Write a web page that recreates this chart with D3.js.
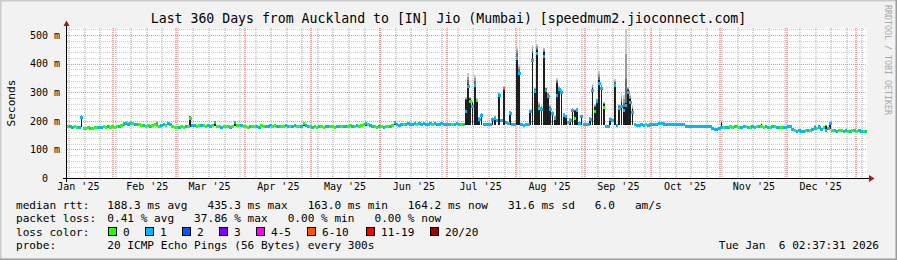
<!DOCTYPE html>
<html>
<head>
<meta charset="utf-8">
<script src="https://cdn.jsdelivr.net/npm/d3@7"></script>
<style>
  html, body { margin: 0; padding: 0; background: #f2f2f2; }
  svg { display: block; font-family: "DejaVu Sans Mono", monospace; }
  text { white-space: pre; }
</style>
</head>
<body>
<div id="chart"></div>
<script>
// time window: 360 days ending Tue Jan 6 02:37:31 2026 (treated as UTC)
const endTime   = new Date(Date.UTC(2026, 0, 6, 2, 37, 31));
const startTime = new Date(endTime.getTime() - 360 * 864e5);

// daily median rtt (ms), one array per month, starting Jan 11 2025
const medJan = [181,179,178,180,178,176,212,175,174,176,175,174,176,177,178,176,179,178,180,177,179];
const medFeb = [178,180,182,185,188,190,186,192,191,189,188,186,184,183,181,184,182,185,186,183,181,184,187,183,190,186,180,178];
const medMar = [178,176,180,177,179,181,208,183,184,182,185,183,184,182,183,181,184,194,182,180,178,181,179,180,178,181,195,184,183,185,182];
const medApr = [180,178,181,179,182,180,178,183,181,180,182,184,181,183,182,181,180,182,183,181,182,180,183,181,182,179,192,183,182,181];
const medMay = [178,180,177,179,181,178,180,179,182,180,178,181,179,180,182,181,179,183,180,182,184,181,183,186,192,186,183,181,180,178,181];
const medJun = [180,178,181,179,182,184,195,186,185,187,189,188,190,189,188,190,189,191,188,190,189,188,190,189,190,188,189,190,188,189];
const medJul = [188,189,187,188,190,188,189,187,232,320,267,250,325,270,205,218,188,187,189,188,205,210,200,290,200,314,195,190,227,188,189];
const medAug = [419,366,186,185,187,186,232,413,302,435,245,240,425,308,285,240,227,210,290,310,300,220,215,195,200,238,210,238,190,215,188];
const medSep = [188,187,205,308,232,267,331,315,248,180,181,205,200,325,185,245,250,235,255,300,265,230,186,185,184,186,185,187,185,186];
const medOct = [188,189,187,190,192,188,187,189,188,187,188,189,187,188,186,182,181,181,182,180,181,181,182,181,180,181,180,172,170,171,175];
const medNov = [178,176,178,177,179,178,180,179,178,177,179,180,178,177,179,178,180,179,181,178,179,177,178,180,179,178,177,178,176,177];
const medDec = [180,179,170,166,164,165,163,164,166,165,168,170,175,172,178,170,176,168,172,190,166,165,164,167,165,164,166,163,164,166,165];
const medJan26 = [164,165,163,164,164];

// loss colour class per day (index into lossLabels)
const lossJan = [0,1,1,0,0,1,1,0,0,0,1,0,0,0,1,1,0,0,1,0,0];
const lossFeb = [0,0,1,0,1,1,1,1,0,1,1,0,0,1,0,0,1,0,0,0,0,1,1,0,1,1,0,0];
const lossMar = [0,1,0,0,1,0,0,1,1,0,0,1,0,0,1,1,0,1,0,0,1,0,0,0,1,0,1,0,0,1,0];
const lossApr = [0,0,1,0,0,1,1,0,0,1,1,1,0,0,1,1,0,0,1,1,0,1,1,0,0,1,0,1,1,0];
const lossMay = [1,0,0,1,0,0,1,1,0,0,0,1,1,0,1,1,0,0,1,0,1,0,0,0,1,0,1,1,0,0,1];
const lossJun = [0,1,0,0,1,0,1,1,1,1,0,1,1,1,1,1,0,1,1,1,1,1,1,0,1,1,1,1,1,1];
const lossJul = [1,1,0,1,1,1,0,1,1,1,0,1,1,0,1,1,1,1,1,1,1,1,1,1,1,5,1,1,1,1,1];
const lossAug = [1,1,1,1,1,1,1,1,1,1,0,1,1,1,1,1,1,1,1,1,1,1,1,1,1,1,0,1,1,1,1];
const lossSep = [1,1,1,1,0,1,1,1,0,1,1,1,1,1,1,1,1,1,1,1,1,1,1,1,1,1,1,0,1,1];
const lossOct = [1,1,1,1,1,1,1,1,1,1,1,1,1,1,1,1,1,1,1,1,1,1,1,1,1,1,1,1,1,1,1];
const lossNov = [1,0,1,1,0,0,1,0,0,1,1,0,1,0,1,1,0,1,0,0,1,1,0,1,0,1,1,0,1,1];
const lossDec = [1,1,1,0,1,1,1,1,0,1,0,1,1,0,1,1,0,1,1,1,0,1,1,0,0,1,1,0,1,0,1];
const lossJan26 = [0,1,1,0,1];

// smoke: [day index, low ms, dark top ms, faint top ms]
const smoke = [
  [6,178,217,220],[25,185,193,196],[26,186,195,198],[27,184,192,195],[28,188,196,198],
  [29,187,194,197],[30,185,192,194],[40,182,190,198],[55,178,215,218],[66,182,197,199],
  [75,182,197,199],[106,182,194,196],[134,183,193,195],[147,184,196,198],
  [179,185,273,285],[180,185,330,366],[181,185,275,285],[182,185,262,270],[183,185,330,360],
  [184,185,273,280],[185,185,210,215],[186,185,222,228],[191,185,208,212],[192,185,213,218],
  [194,185,292,300],[196,185,316,322],[199,185,230,235],
  [202,185,425,460],[203,185,370,400],[208,185,235,240],[209,185,436,465],[210,185,305,320],
  [211,185,448,470],[212,185,250,265],[213,185,245,255],[214,185,440,455],[215,185,310,320],
  [216,185,290,300],[217,185,245,255],[218,185,230,235],[219,185,212,218],[220,185,332,350],
  [221,185,312,322],[222,185,303,310],[223,185,222,228],[224,185,218,222],[226,185,205,210],
  [227,185,240,245],[228,185,235,240],[229,185,240,245],[231,185,217,220],
  [235,185,210,215],[236,185,315,330],[237,185,250,258],[238,185,272,280],[239,185,343,375],
  [240,185,318,330],[241,185,260,265],[244,185,208,212],[246,185,330,345],[248,185,250,258],
  [249,185,265,300],[250,185,250,290],[251,185,262,520],[252,185,308,320],[253,185,275,295],
  [254,185,240,255],
  [268,186,193,195],[294,176,194,196],[312,178,188,191],[336,170,180,184],[338,170,183,186],
  [341,168,182,185],[343,170,195,198]
];

const lossLabels = ["0", "1", "2", "3", "4-5", "6-10", "11-19", "20/20"];
const lossColors = ["#26ff00", "#00b8ff", "#0059ff", "#7e00ff", "#ff00ff", "#ff5500", "#ff0000", "#a10000"];

const yTicks = [0, 100, 200, 300, 400, 500];
const yTickLabels = ["0  ", "100 m", "200 m", "300 m", "400 m", "500 m"];

const titleText = "Last 360 Days from Auckland to [IN] Jio (Mumbai) [speedmum2.jioconnect.com]";
const legendLines = [
  ["median rtt:", "188.3 ms avg   435.3 ms max   163.0 ms min   164.2 ms now   31.6 ms sd   6.0   am/s"],
  ["packet loss:", "0.41 % avg   37.86 % max   0.00 % min   0.00 % now"],
  ["loss color:", ""],
  ["probe:", "20 ICMP Echo Pings (56 Bytes) every 300s"]
];
const stampText = "Tue Jan  6 02:37:31 2026";

const median = [].concat(medJan, medFeb, medMar, medApr, medMay, medJun, medJul,
                         medAug, medSep, medOct, medNov, medDec, medJan26);
const loss = [].concat(lossJan, lossFeb, lossMar, lossApr, lossMay, lossJun, lossJul,
                       lossAug, lossSep, lossOct, lossNov, lossDec, lossJan26);

const W = 897, H = 260;
const svg = d3.select("#chart").append("svg")
    .attr("width", W).attr("height", H);

// background + rrdtool style shade border
svg.append("rect").attr("width", W).attr("height", H).attr("fill", "#f2f2f2");
svg.append("path").attr("d", `M0,${H} V0 H${W}`).attr("fill", "none")
    .attr("stroke", "#cbcbcb").attr("stroke-width", 3);
svg.append("path").attr("d", `M0,${H} H${W} V0`).attr("fill", "none")
    .attr("stroke", "#9c9c9c").attr("stroke-width", 3);

// scales
const x = d3.scaleTime().domain([startTime, endTime]).range([67, 867]);
const y = d3.scaleLinear().domain([0, 525]).range([178, 28]);
const dayDate = d => new Date(startTime.getTime() + d * 864e5);
const px = v => Math.round(v) + 0.5;

// plot canvas
svg.append("rect")
    .attr("x", 67).attr("y", 28).attr("width", 800).attr("height", 150)
    .attr("fill", "#ffffff");

const grid = svg.append("g");

// minor grid: every 20 ms, every week (Sunday)
grid.append("g").attr("shape-rendering", "crispEdges")
  .selectAll("line").data(d3.range(20, 525, 20))
  .join("line")
    .attr("x1", 67).attr("x2", 867)
    .attr("y1", d => px(y(d))).attr("y2", d => px(y(d)))
    .attr("stroke", "#cfcfcf").attr("stroke-dasharray", "1,1");
grid.append("g")
  .selectAll("line").data(d3.utcSunday.range(startTime, endTime))
  .join("line")
    .attr("x1", d => Math.round(x(d))).attr("x2", d => Math.round(x(d)))
    .attr("y1", 28).attr("y2", 178)
    .attr("stroke", "#b4b4b4").attr("stroke-width", 1.2)
    .attr("stroke-dasharray", "1,1");

// major grid: every 100 ms, every month
grid.append("g").attr("shape-rendering", "crispEdges")
  .selectAll("line").data(yTicks.slice(1))
  .join("line")
    .attr("x1", 67).attr("x2", 867)
    .attr("y1", d => px(y(d))).attr("y2", d => px(y(d)))
    .attr("stroke", "#f09090").attr("stroke-dasharray", "1,1");
grid.append("g")
  .selectAll("line").data(d3.utcMonth.range(startTime, endTime))
  .join("line")
    .attr("x1", d => Math.round(x(d))).attr("x2", d => Math.round(x(d)))
    .attr("y1", 28).attr("y2", 178)
    .attr("stroke", "#ec7070").attr("stroke-width", 1.2)
    .attr("stroke-dasharray", "1,1");

// smoke
const smokeG = svg.append("g").attr("shape-rendering", "crispEdges");
const fades = ["#6e6e6e", "#9a9a9a", "#c8c8c8"];
smoke.forEach(([d, lo, hi, top]) => {
  const x0 = x(dayDate(d)) + 0.2, x1 = x(dayDate(d + 1)) - 0.2;
  smokeG.append("rect")
      .attr("x", x0).attr("width", x1 - x0)
      .attr("y", y(hi)).attr("height", y(lo) - y(hi))
      .attr("fill", "#1e1e1e");
  fades.forEach((c, k) => {
    const a = hi + (top - hi) * k / 3, b = hi + (top - hi) * (k + 1) / 3;
    smokeG.append("rect")
        .attr("x", x0).attr("width", x1 - x0)
        .attr("y", y(b)).attr("height", y(a) - y(b))
        .attr("fill", c);
  });
});

// median, coloured by loss
svg.append("g").attr("shape-rendering", "crispEdges")
  .selectAll("rect")
  .data(median.map((v, i) => ({ i, v, l: loss[i] })))
  .join("rect")
    .attr("x", d => x(dayDate(d.i)))
    .attr("width", d => x(dayDate(d.i + 1)) - x(dayDate(d.i)) + 0.3)
    .attr("y", d => y(d.v) - 1.5)
    .attr("height", 3)
    .attr("fill", d => lossColors[d.l]);

// axes
const yAxis = svg.append("g")
    .attr("transform", "translate(67,0)")
    .call(d3.axisLeft(y).tickValues(yTicks)
      .tickFormat((d, i) => yTickLabels[i]).tickSize(0).tickPadding(7));
yAxis.select(".domain").remove();
yAxis.selectAll("text")
    .attr("font-family", "DejaVu Sans Mono").attr("font-size", "10px").attr("fill", "#000");

const labelDates = d3.utcMonth.range(d3.utcMonth.floor(startTime), endTime)
    .map(m => d3.utcDay.offset(m, 15))
    .filter(d => d < endTime);
const xAxis = svg.append("g")
    .attr("transform", "translate(0,178)")
    .call(d3.axisBottom(x).tickValues(labelDates)
      .tickFormat(d3.utcFormat("%b '%y")).tickSize(0).tickPadding(5));
xAxis.select(".domain").remove();
xAxis.selectAll("text")
    .attr("font-family", "DejaVu Sans Mono").attr("font-size", "10px").attr("fill", "#000");

// axis lines with arrows
svg.append("line").attr("x1", 63).attr("x2", 870).attr("y1", 178.5).attr("y2", 178.5)
    .attr("stroke", "#000");
svg.append("line").attr("x1", 66.5).attr("x2", 66.5).attr("y1", 182).attr("y2", 25)
    .attr("stroke", "#000");
svg.append("path").attr("d", "M63.5,26 L66.5,20.5 L69.5,26 Z").attr("fill", "#9b1c1c");
svg.append("path").attr("d", "M869,175 L874.5,178.5 L869,182 Z").attr("fill", "#9b1c1c");

// title, unit, watermark
svg.append("text").attr("x", 448.5).attr("y", 23)
    .attr("text-anchor", "middle").attr("font-size", "13.2px").attr("fill", "#000")
    .text(titleText);
svg.append("text")
    .attr("transform", "translate(15,103) rotate(-90)")
    .attr("text-anchor", "middle").attr("font-size", "11.1px").attr("fill", "#000")
    .text("Seconds");
svg.append("text")
    .attr("transform", "translate(885,5) rotate(90)")
    .attr("font-size", "8.3px").attr("fill", "#a8a8a8")
    .text("RRDTOOL / TOBI OETIKER");

// legend
const legend = svg.append("g").attr("font-size", "11.1px").attr("fill", "#000");
const lineY = [209, 222.3, 235.6, 249];
legendLines.forEach(([label, values], i) => {
  legend.append("text").attr("x", 16).attr("y", lineY[i]).text(label);
  if (values) legend.append("text").attr("x", 107.3).attr("y", lineY[i]).text(values);
});
legend.append("text").attr("x", 879).attr("y", lineY[3])
    .attr("text-anchor", "end").text(stampText);

const boxX = [108.5, 145.5, 182.5, 219.5, 256.5, 307.5, 366.5, 430.5];
lossLabels.forEach((lab, i) => {
  legend.append("rect")
      .attr("x", boxX[i]).attr("y", 227.5).attr("width", 8).attr("height", 8)
      .attr("fill", lossColors[i]).attr("stroke", "#000").attr("stroke-width", 1);
  legend.append("text").attr("x", boxX[i] + 14.5).attr("y", lineY[2]).text(lab);
});
</script>
</body>
</html>
